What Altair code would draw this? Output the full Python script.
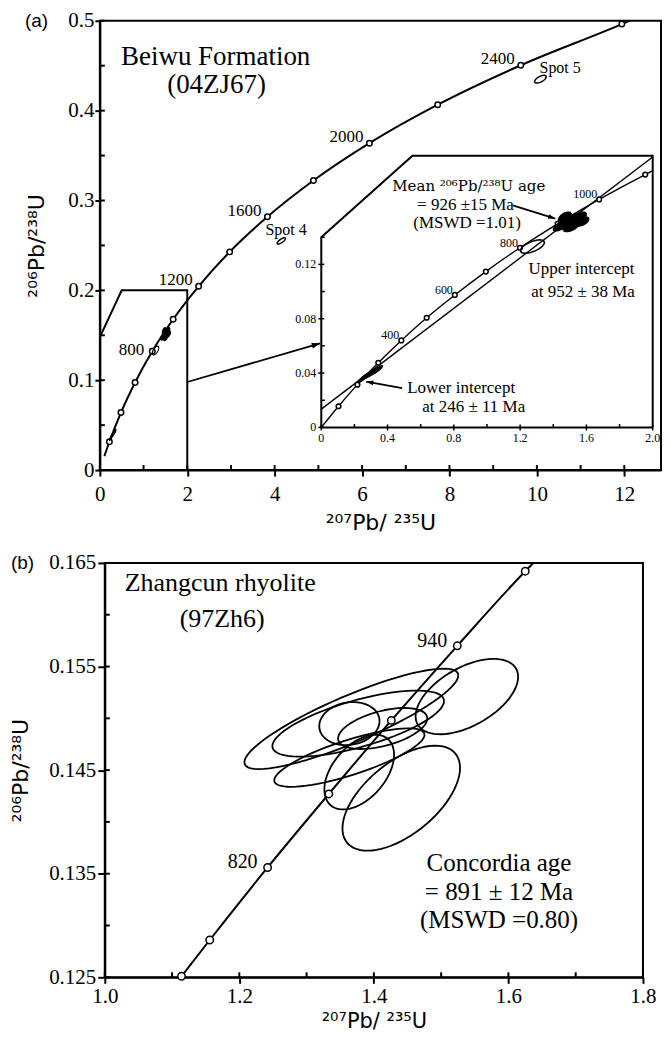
import altair as alt
import numpy as np
import pandas as pd

SERIF = "Liberation Serif"
SANS = "Liberation Sans"
SUPSANS = "DejaVu Sans"

# ---------------- Panel (a): main diagram ----------------
conc_a_x = [0.104, 0.218, 0.483, 0.806, 1.199, 1.677, 2.260, 2.970, 3.834, 4.887, 6.168, 7.731, 9.631, 11.944, 12.120]
conc_a_y = [0.0156, 0.0315, 0.0640, 0.0975, 0.1322, 0.1678, 0.2045, 0.2428, 0.2818, 0.3222, 0.3638, 0.4066, 0.4505, 0.4963, 0.5000]
conc_a_mark = [0, 1, 1, 1, 1, 1, 1, 1, 1, 1, 1, 1, 1, 1, 0]

age_a_text = ["1200", "1600", "2000", "2400"]
age_a_x = [2.260, 3.834, 6.168, 9.631]
age_a_y = [0.2045, 0.2818, 0.3638, 0.4505]
age_a800_text = ["800"]
age_a800_x = [1.199]
age_a800_y = [0.1322]

zoom_box_x = [0.0, 0.5, 2.0, 2.0]
zoom_box_y = [0.148, 0.200, 0.200, 0.0]

arrow_a_x = [2.0, 5.04]
arrow_a_y = [0.098, 0.141]

spot_text = ["Spot 4", "Spot 5"]
spot_text_x = [3.79, 10.06]
spot_text_y = [0.267, 0.447]
spot_cx = [4.15, 10.08]
spot_cy = [0.255, 0.435]
spot_sx = [0.094, 0.132]
spot_sy = [0.0035, 0.0043]
spot_rho = [0.76, 0.62]

name_a = ["Beiwu Formation", "(04ZJ67)"]
name_a_x = [2.65, 2.67]
name_a_y = [0.460, 0.429]

a_xtick_major = [0, 2, 4, 6, 8, 10, 12]
a_xtick_all = [0, 1, 2, 3, 4, 5, 6, 7, 8, 9, 10, 11, 12]
a_ytick_major = [0, 0.1, 0.2, 0.3, 0.4, 0.5]
a_ytick_all = [0, 0.05, 0.1, 0.15, 0.2, 0.25, 0.3, 0.35, 0.4, 0.45, 0.5]

# zircon analyses (shown in the main diagram and in the inset)
dark_cx = [1.455, 1.490, 1.520, 1.550, 1.570, 1.470, 1.510, 0.250, 0.280, 0.310, 0.340]
dark_cy = [0.1490, 0.1515, 0.1530, 0.1545, 0.1515, 0.1545, 0.1480, 0.0360, 0.0385, 0.0405, 0.0425]
dark_sx = [0.055, 0.060, 0.050, 0.050, 0.045, 0.040, 0.050, 0.030, 0.040, 0.040, 0.030]
dark_sy = [0.0045, 0.0050, 0.0045, 0.0040, 0.0035, 0.0040, 0.0040, 0.0030, 0.0035, 0.0035, 0.0030]
dark_rho = [0.75, 0.70, 0.60, 0.60, 0.50, 0.50, 0.60, 0.90, 0.90, 0.90, 0.90]
open_cx = [1.274]
open_cy = [0.1331]
open_sx = [0.072]
open_sy = [0.0049]
open_rho = [0.61]

# ---------------- Panel (a): inset ----------------
ins_conc_x = [0.0, 0.104, 0.218, 0.344, 0.483, 0.636, 0.806, 0.993, 1.199, 1.426, 1.677, 1.955, 2.0]
ins_conc_y = [0.0, 0.0156, 0.0315, 0.0476, 0.0640, 0.0807, 0.0975, 0.1147, 0.1322, 0.1498, 0.1678, 0.1861, 0.1889]
ins_conc_mark = [0, 1, 1, 1, 1, 1, 1, 1, 1, 1, 1, 1, 0]
ins_age_text = ["400", "600", "800", "1000"]
ins_age_x = [0.483, 0.806, 1.199, 1.677]
ins_age_y = [0.0640, 0.0975, 0.1322, 0.1678]
disc_x = [0.0, 2.0]
disc_y = [0.0135, 0.199]
ins_frame_x = [2.0, 0.0, 0.0, 0.55, 2.0, 2.0]
ins_frame_y = [0.0, 0.0, 0.14, 0.2, 0.2, 0.0]
ins_mean_text = ["Mean \u00b2\u2070\u2076Pb/\u00b2\u00b3\u2078U age"]
ins_mean_x = [0.89]
ins_mean_y = [0.178]
ins_note_text = ["= 926 \u00b115 Ma", "(MSWD =1.01)",
                 "Upper intercept", "at 952 \u00b1 38 Ma", "Lower intercept", "at 246 \u00b1 11 Ma"]
ins_note_x = [0.87, 0.88, 1.57, 1.58, 0.844, 0.92]
ins_note_y = [0.1635, 0.1505, 0.1164, 0.100, 0.029, 0.0153]
arrow_mean_x = [1.156, 1.412]
arrow_mean_y = [0.1634, 0.1537]
arrow_low_x = [0.488, 0.271]
arrow_low_y = [0.0289, 0.0337]

in_xtick_major = [0, 0.4, 0.8, 1.2, 1.6, 2.0]
in_xtick_label = ["0", "0.4", "0.8", "1.2", "1.6", "2.0"]
in_xtick_minor = [0.2, 0.6, 1.0, 1.4, 1.8]
in_ytick_major = [0, 0.04, 0.08, 0.12]
in_ytick_label = ["0", "0.04", "0.08", "0.12"]
in_ytick_minor = [0.02, 0.06, 0.10, 0.14]

# ---------------- Panel (b) ----------------
conc_b_x = [1.114, 1.156, 1.242, 1.333, 1.426, 1.524, 1.625, 1.637]
conc_b_y = [0.1251, 0.1286, 0.1356, 0.1427, 0.1498, 0.1570, 0.1642, 0.1650]
conc_b_mark = [1, 1, 1, 1, 1, 1, 1, 0]
age_b_text = ["820", "940"]
age_b_x = [1.242, 1.524]
age_b_y = [0.1356, 0.1570]
ell_b_cx = [1.3665, 1.3767, 1.3636, 1.3636, 1.3782, 1.4407, 1.5382, 1.4131]
ell_b_cy = [0.14995, 0.14949, 0.14621, 0.14949, 0.14481, 0.14229, 0.15210, 0.14902]
ell_b_sx = [0.159, 0.1276, 0.1117, 0.0448, 0.0518, 0.0874, 0.0762, 0.0663]
ell_b_sy = [0.00485, 0.00319, 0.00282, 0.00208, 0.00361, 0.00507, 0.00364, 0.00198]
ell_b_rho = [0.864, 0.682, 0.780, 0.119, 0.464, 0.576, 0.523, 0.487]
name_b = ["Zhangcun rhyolite", "(97Zh6)"]
name_b_x = [1.1716, 1.1745]
name_b_y = [0.16304, 0.15958]
result_b = ["Concordia age", "= 891 \u00b1 12 Ma", "(MSWD =0.80)"]
result_b_x = [1.586, 1.586, 1.586]
result_b_y = [0.13600, 0.13325, 0.13050]

b_xtick_major = [1.0, 1.2, 1.4, 1.6, 1.8]
b_xtick_all = [1.0, 1.1, 1.2, 1.3, 1.4, 1.5, 1.6, 1.7, 1.8]
b_ytick_major = [0.125, 0.135, 0.145, 0.155, 0.165]
b_ytick_all = [0.125, 0.13, 0.135, 0.14, 0.145, 0.15, 0.155, 0.16, 0.165]

W_A, H_A = 562, 450
W_B, H_B = 539, 415
ARROW = "M 0 0 L -1.6 -0.55 L -1.6 0.55 Z"


def pts(x, y, **extra):
    d = {"x": x, "y": y, "i": list(range(len(x)))}
    d.update(extra)
    return pd.DataFrame(d)


def ellipses(cx, cy, sx, sy, rho):
    t = np.linspace(0, 2 * np.pi, 73)
    frames = []
    for k, (a, b, c, d, r) in enumerate(zip(cx, cy, sx, sy, rho)):
        frames.append(pd.DataFrame({
            "id": k, "i": np.arange(len(t)),
            "x": a + c * np.cos(t),
            "y": b + d * (r * np.cos(t) + np.sqrt(1 - r * r) * np.sin(t)),
        }))
    return pd.concat(frames, ignore_index=True)


def texts(t, x, y):
    return pd.DataFrame({"t": t, "x": x, "y": y})


AX = dict(domainColor="black", domainWidth=2, tickColor="black", tickWidth=2,
          labelColor="black", labelFont=SERIF, titleFont=SUPSANS, titleFontWeight="normal",
          titleColor="black", grid=False, labelFlush=False, labelOverlap=False)


def enc(xs, ys, ax=None, ay=None):
    return dict(x=alt.X("x:Q", scale=xs, axis=ax), y=alt.Y("y:Q", scale=ys, axis=ay))


def line(df, xs, ys, width=2, **kw):
    return alt.Chart(df).mark_line(color="black", strokeWidth=width, **kw).encode(
        order="i:Q", **enc(xs, ys))


def markers(df, xs, ys, size):
    return alt.Chart(df).transform_filter("datum.m == 1").mark_point(
        shape="circle", filled=True, fill="white", stroke="black", strokeWidth=1.5,
        size=size, opacity=1).encode(**enc(xs, ys))


def label(df, xs, ys, size, font=SERIF, **kw):
    return alt.Chart(df).mark_text(font=font, fontSize=size, color="black", **kw).encode(
        text="t:N", **enc(xs, ys))


def ell_layer(df, xs, ys, width, fill=None):
    kw = {"fill": fill} if fill else {}
    return alt.Chart(df).mark_line(color="black", strokeWidth=width, **kw).encode(
        detail="id:N", order="i:Q", **enc(xs, ys))


def head(x, y, xs, ys, angle, size):
    return alt.Chart(pd.DataFrame({"x": [x], "y": [y]})).mark_point(
        shape=ARROW, filled=True, color="black", opacity=1, size=size, angle=angle).encode(**enc(xs, ys))


def xticks(vals, xs, ys, y0, size, yoff, width=2):
    return alt.Chart(pd.DataFrame({"v": vals})).mark_tick(
        orient="vertical", size=size, thickness=width, yOffset=yoff, color="black", opacity=1).encode(
        x=alt.X("v:Q", scale=xs, axis=None), y=alt.Y(datum=y0, scale=ys, axis=None))


def yticks(vals, xs, ys, x0, size, xoff, width=2):
    return alt.Chart(pd.DataFrame({"v": vals})).mark_tick(
        orient="horizontal", size=size, thickness=width, xOffset=xoff, color="black", opacity=1).encode(
        y=alt.Y("v:Q", scale=ys, axis=None), x=alt.X(datum=x0, scale=xs, axis=None))


def tick_labels(vals, labels, xs, ys, fixed, along, size, **kw):
    df = pd.DataFrame({"v": vals, "t": labels})
    if along == "x":
        e = dict(x=alt.X("v:Q", scale=xs, axis=None), y=alt.Y(datum=fixed, scale=ys, axis=None))
    else:
        e = dict(y=alt.Y("v:Q", scale=ys, axis=None), x=alt.X(datum=fixed, scale=xs, axis=None))
    return alt.Chart(df).mark_text(font=SERIF, fontSize=size, color="black", **kw).encode(text="t:N", **e)


def panel_tag(tag, px):
    return alt.Chart(pd.DataFrame({"t": [tag]})).mark_text(
        font=SANS, fontSize=19, align="left", baseline="middle", color="black").encode(
        x=alt.value(px), y=alt.value(0), text="t:N")


# ---------- panel (a) ----------
xs_a = alt.Scale(domain=[0, 12.84], nice=False, zero=False)
ys_a = alt.Scale(domain=[0, 0.5], nice=False, zero=False)

ax_a_x = alt.Axis(orient="bottom", values=a_xtick_major, format="d",
                  title="\u00b2\u2070\u2077Pb/ \u00b2\u00b3\u2075U", titleFontSize=22, labelFontSize=21,
                  tickSize=6, labelPadding=7, titlePadding=9, **AX)
ax_a_y = alt.Axis(orient="left", values=a_ytick_major, format="~g",
                  title="\u00b2\u2070\u2076Pb/\u00b2\u00b3\u2078U", titleFontSize=22, labelFontSize=21,
                  tickSize=5, labelPadding=1, titlePadding=19, **AX)

conc_a = pts(conc_a_x, conc_a_y, m=conc_a_mark)
dark_df = ellipses(dark_cx, dark_cy, dark_sx, dark_sy, dark_rho)
open_df = ellipses(open_cx, open_cy, open_sx, open_sy, open_rho)
spot_df = ellipses(spot_cx, spot_cy, spot_sx, spot_sy, spot_rho)

main_group = alt.layer(
    alt.Chart(conc_a).mark_line(color="black", strokeWidth=2, interpolate="monotone").encode(
        order="i:Q", **enc(xs_a, ys_a, ax_a_x, ax_a_y)),
    xticks(a_xtick_all, xs_a, ys_a, 0, 5, -2.5),
    yticks(a_ytick_all, xs_a, ys_a, 0, 5, 2.5),
    line(pts(zoom_box_x, zoom_box_y), xs_a, ys_a, width=2),
    line(pts(arrow_a_x, arrow_a_y), xs_a, ys_a, width=1.8),
    head(arrow_a_x[1], arrow_a_y[1], xs_a, ys_a, 344, 110),
    markers(conc_a, xs_a, ys_a, 30),
    ell_layer(dark_df, xs_a, ys_a, 1.2, fill="black"),
    ell_layer(open_df, xs_a, ys_a, 1.2),
    ell_layer(spot_df, xs_a, ys_a, 1.5),
    label(texts(age_a_text, age_a_x, age_a_y), xs_a, ys_a, 17, align="right", dx=-6, dy=-6),
    label(texts(age_a800_text, age_a800_x, age_a800_y), xs_a, ys_a, 17, align="right", dx=-8, dy=-1),
    label(texts(spot_text, spot_text_x, spot_text_y), xs_a, ys_a, 16, align="left"),
    label(texts(name_a, name_a_x, name_a_y), xs_a, ys_a, 27),
    panel_tag("(a)", -75),
).resolve_axis(x="independent", y="independent")

# inset (its own scales, placed inside the main plot area)
xs_in = alt.Scale(domain=[0, 2.0], range=[0.3946 * W_A, 0.9852 * W_A], nice=False, zero=False)
ys_in = alt.Scale(domain=[0, 0.2], range=[0.9051 * H_A, 0.3002 * H_A], nice=False, zero=False)

ins_conc = pts(ins_conc_x, ins_conc_y, m=ins_conc_mark)
ins_frame = pts(ins_frame_x, ins_frame_y)

inset_group = alt.layer(
    line(ins_frame, xs_in, ys_in, width=2),
    xticks(in_xtick_major, xs_in, ys_in, 0, 6, 0, 1.5),
    xticks(in_xtick_minor, xs_in, ys_in, 0, 3.5, -1.75, 1.5),
    yticks(in_ytick_major, xs_in, ys_in, 0, 6, 0, 1.5),
    yticks(in_ytick_minor, xs_in, ys_in, 0, 3.5, 1.75, 1.5),
    tick_labels(in_xtick_major, in_xtick_label, xs_in, ys_in, 0, "x", 12, baseline="top", dy=6),
    tick_labels(in_ytick_major, in_ytick_label, xs_in, ys_in, 0, "y", 12, align="right", dx=-5),
    line(ins_conc, xs_in, ys_in, width=1.4, interpolate="monotone"),
    line(pts(disc_x, disc_y), xs_in, ys_in, width=1.4),
    markers(ins_conc, xs_in, ys_in, 22),
    ell_layer(dark_df, xs_in, ys_in, 1.2, fill="black"),
    ell_layer(open_df, xs_in, ys_in, 1.6),
    line(pts(arrow_mean_x, arrow_mean_y), xs_in, ys_in, width=1.8),
    head(arrow_mean_x[1], arrow_mean_y[1], xs_in, ys_in, 17, 80),
    line(pts(arrow_low_x, arrow_low_y), xs_in, ys_in, width=1.8),
    head(arrow_low_x[1], arrow_low_y[1], xs_in, ys_in, 190, 80),
    label(texts(ins_age_text, ins_age_x, ins_age_y), xs_in, ys_in, 12, align="right", dx=-2, dy=-5),
    label(texts(ins_mean_text, ins_mean_x, ins_mean_y), xs_in, ys_in, 15, font="DejaVu Serif"),
    label(texts(ins_note_text, ins_note_x, ins_note_y), xs_in, ys_in, 17),
)

panel_a = alt.layer(main_group, inset_group).resolve_scale(
    x="independent", y="independent").properties(width=W_A, height=H_A)

# ---------- panel (b) ----------
xs_b = alt.Scale(domain=[1.0, 1.8], nice=False, zero=False)
ys_b = alt.Scale(domain=[0.125, 0.165], nice=False, zero=False)
ax_b_x = alt.Axis(orient="bottom", values=b_xtick_major, format=".1f",
                  title="\u00b2\u2070\u2077Pb/ \u00b2\u00b3\u2075U", titleFontSize=21, labelFontSize=21,
                  tickSize=6, labelPadding=2, titlePadding=4, **AX)
ax_b_y = alt.Axis(orient="left", values=b_ytick_major, format=".3f",
                  title="\u00b2\u2070\u2076Pb/\u00b2\u00b3\u2078U", titleFontSize=22, labelFontSize=21,
                  tickSize=7, labelPadding=2, titlePadding=16, **AX)

conc_b = pts(conc_b_x, conc_b_y, m=conc_b_mark)
ell_b = ellipses(ell_b_cx, ell_b_cy, ell_b_sx, ell_b_sy, ell_b_rho)

panel_b = alt.layer(
    alt.Chart(conc_b).mark_line(color="black", strokeWidth=2, interpolate="monotone").encode(
        order="i:Q", **enc(xs_b, ys_b, ax_b_x, ax_b_y)),
    xticks(b_xtick_all, xs_b, ys_b, 0.125, 5, -2.5),
    yticks(b_ytick_all, xs_b, ys_b, 1.0, 5, 2.5),
    ell_layer(ell_b, xs_b, ys_b, 1.8),
    markers(conc_b, xs_b, ys_b, 55),
    label(texts(age_b_text, age_b_x, age_b_y), xs_b, ys_b, 20, align="right", dx=-10, dy=-5),
    label(texts(name_b, name_b_x, name_b_y), xs_b, ys_b, 26),
    label(texts(result_b, result_b_x, result_b_y), xs_b, ys_b, 25),
    panel_tag("(b)", -94),
).resolve_axis(x="independent", y="independent").properties(width=W_B, height=H_B)

chart = alt.vconcat(panel_a, panel_b, spacing=16, center=True).properties(
    padding={"left": 0, "top": 0, "right": 0, "bottom": 0}
).configure_view(stroke="black", strokeWidth=2)

chart.save("out.html", embed_options={"renderer": "svg", "actions": False})
